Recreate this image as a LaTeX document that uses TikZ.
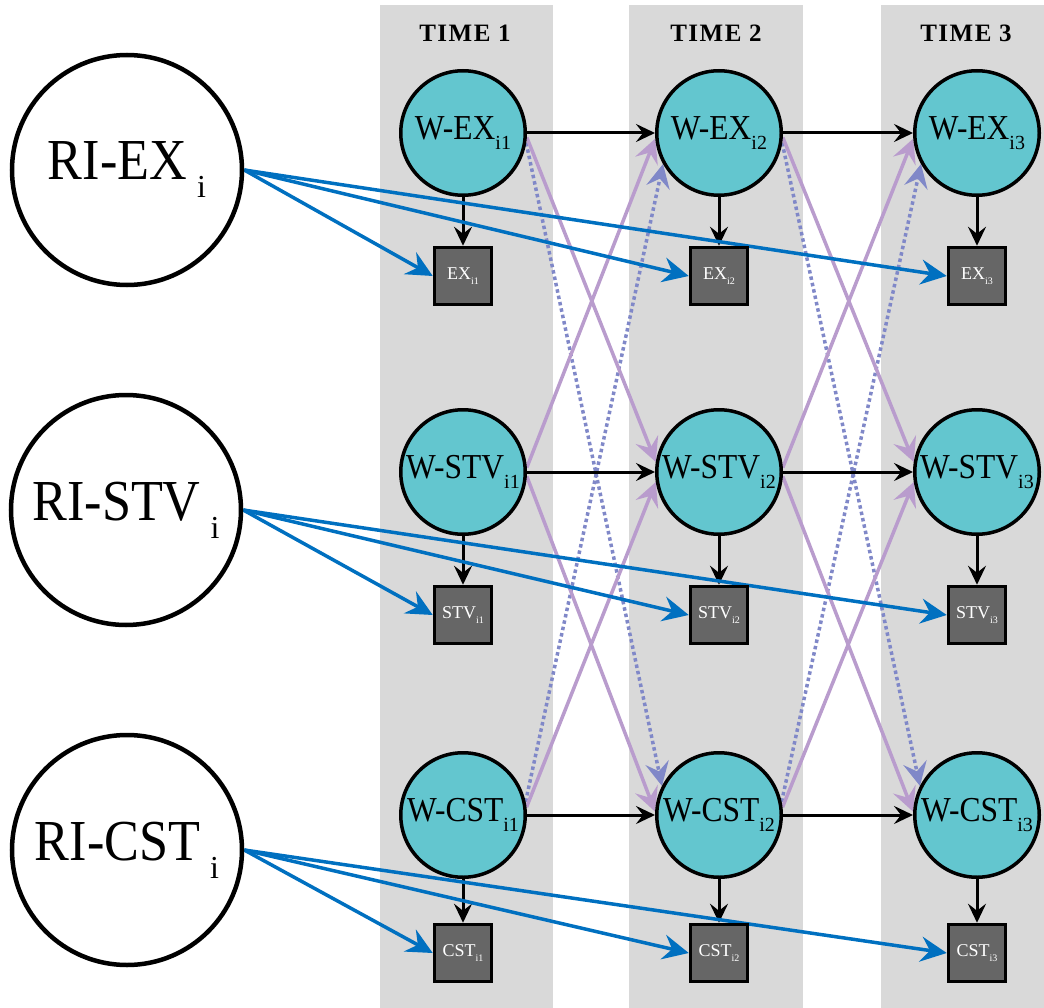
\documentclass[tikz,border=0pt]{standalone}
\usepackage{fontspec}
\setmainfont{Liberation Serif}
\usetikzlibrary{arrows.meta}
\definecolor{wcyan}{RGB}{99,198,207}
\definecolor{colbg}{RGB}{217,217,217}
\definecolor{boxgray}{RGB}{102,102,102}
\definecolor{riblue}{RGB}{0,112,192}
\definecolor{lpurple}{RGB}{185,156,205}
\definecolor{dotblue}{RGB}{128,136,200}
\pgfdeclarelayer{bg}
\pgfdeclarelayer{edgelayer}
\pgfsetlayers{bg,edgelayer,main}
\newcommand\mysub[3]{\raisebox{-#2pt}{\fontsize{#1pt}{#1pt}\selectfont #3}}
\newcommand\narrow[1]{\scalebox{0.9}[1]{#1}}
\newcommand\ls{\hspace{1.5pt}}
\begin{document}
\begin{tikzpicture}[x=1pt,y=-1pt,
  wnode/.style={circle, draw=black, line width=3.5pt, fill=wcyan, minimum size=124.5pt, inner sep=0pt, font=\fontsize{35pt}{35pt}\selectfont},
  rinode/.style={circle, draw=black, line width=4.5pt, fill=white, minimum size=230pt, inner sep=0pt, font=\fontsize{58pt}{58pt}\selectfont},
  obsbox/.style={rectangle, draw=black, line width=3.5pt, fill=boxgray, minimum size=57pt, inner sep=0pt, text=white, font=\fontsize{18pt}{18pt}\selectfont},
  hdr/.style={font=\bfseries\fontsize{25pt}{25pt}\selectfont},
  ar/.style={draw=black, line width=3pt, -{Stealth[length=19pt,width=18pt,inset=7pt]}},
  pu/.style={draw=lpurple, line width=3.5pt, -{Stealth[length=24pt,width=24pt,inset=9pt]}},
  dt/.style={draw=dotblue, line width=3.5pt, dash pattern=on 3.5pt off 3pt, -{Stealth[length=24pt,width=24pt,inset=9pt,line width=0pt]}},
  bl/.style={draw=riblue, line width=3.5pt, -{Stealth[length=26pt,width=25pt,inset=9pt]}}
]
\useasboundingbox (0,0) rectangle (1044,1008);
\begin{pgfonlayer}{bg}
  \fill[colbg] (380,5) rectangle (553,1008);
  \fill[colbg] (629,5) rectangle (803,1008);
  \fill[colbg] (881,5) rectangle (1044,1008);
\end{pgfonlayer}
\node[hdr] (h1) at (465,33) {T\ls I\ls M\ls E\ls\ 1};
\node[hdr] (h2) at (716,33) {T\ls I\ls M\ls E\ls\ 2};
\node[hdr] (h3) at (966,33) {T\ls I\ls M\ls E\ls\ 3};
\node[rinode] (riEX) at (127,170) {\raisebox{-8pt}{\narrow{RI-EX}\hspace{10pt}\mysub{32}{18}{i}}};
\node[rinode] (riSTV) at (126,510) {\raisebox{-8pt}{\narrow{RI-STV}\hspace{10pt}\mysub{32}{18}{i}}};
\node[rinode] (riCST) at (127,850) {\raisebox{-8pt}{\narrow{RI-CST}\hspace{10pt}\mysub{32}{18}{i}}};
\foreach \c/\x in {1/463,2/719,3/977}{
  \node[wnode] (wEX\c) at (\x,133) {\raisebox{-3pt}{\narrow{W-EX}\mysub{20}{10}{i\c}}};
  \node[wnode] (wSTV\c) at (\x,472) {\raisebox{-3pt}{\narrow{W-STV}\mysub{20}{10}{i\c}}};
  \node[wnode] (wCST\c) at (\x,815) {\raisebox{-3pt}{\narrow{W-CST}\mysub{20}{10}{i\c}}};
  \node[obsbox] (oEX\c) at (\x,276) {EX\mysub{10}{5}{i\c}};
  \node[obsbox] (oSTV\c) at (\x,615) {STV\mysub{10}{5}{i\c}};
  \node[obsbox] (oCST\c) at (\x,953) {CST\mysub{10}{5}{i\c}};
}
\begin{pgfonlayer}{edgelayer}
\foreach \a/\b in {1/2,2/3}{
  \draw[dt] (wEX\a.-9) -- (wCST\b.153);
  \draw[dt] (wCST\a.12) -- (wEX\b.209);
  \draw[pu] (wEX\a.-4) -- (wSTV\b.171);
  \draw[pu] (wSTV\a.4) -- (wEX\b.185);
  \draw[pu] (wSTV\a.-4) -- (wCST\b.177);
  \draw[pu] (wCST\a.7) -- (wSTV\b.189);
  \draw[ar] (wEX\a) -- (wEX\b);
  \draw[ar] (wSTV\a) -- (wSTV\b);
  \draw[ar] (wCST\a) -- (wCST\b);
}
\foreach \c in {1,2,3}{
  \draw[ar] (wEX\c) -- (oEX\c);
  \draw[ar] (wSTV\c) -- (oSTV\c);
  \draw[ar] (wCST\c) -- (oCST\c);
  \draw[bl] (riEX.east) -- (oEX\c.west);
  \draw[bl] (riSTV.east) -- (oSTV\c.west);
  \draw[bl] (riCST.east) -- (oCST\c.west);
}
\end{pgfonlayer}
\end{tikzpicture}
\end{document}
